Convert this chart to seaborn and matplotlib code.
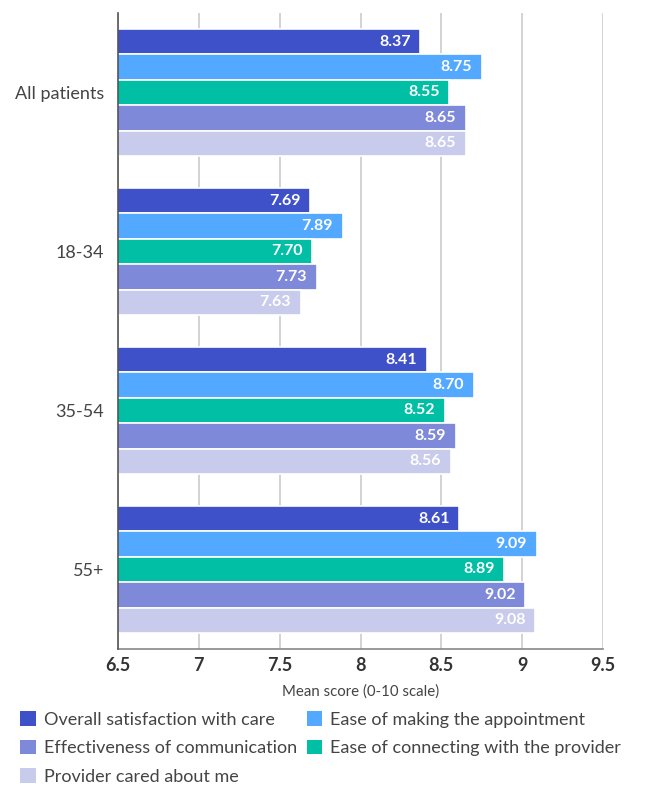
import matplotlib
matplotlib.use("Agg")
import matplotlib.pyplot as plt
import seaborn as sns
import pandas as pd
from matplotlib.patches import Patch

groups = ["All patients", "18-34", "35-54", "55+"]
measures = [
    "Overall satisfaction with care",
    "Ease of making the appointment",
    "Ease of connecting with the provider",
    "Effectiveness of communication",
    "Provider cared about me",
]
overall = [8.37, 7.69, 8.41, 8.61]
making_appt = [8.75, 7.89, 8.70, 9.09]
connecting = [8.55, 7.70, 8.52, 8.89]
communication = [8.65, 7.73, 8.59, 9.02]
cared = [8.65, 7.63, 8.56, 9.08]
colors = ["#3F51C8", "#52A9FF", "#00BFA5", "#7F89D9", "#C8CBEC"]
xticks = [6.5, 7, 7.5, 8, 8.5, 9, 9.5]

series = [overall, making_appt, connecting, communication, cared]
rows = []
for m, vals in zip(measures, series):
    for g, v in zip(groups, vals):
        rows.append({"group": g, "measure": m, "score": v})
df = pd.DataFrame(rows)

sns.set_theme(style="white")
plt.rcParams["font.family"] = ["Lato", "DejaVu Sans"]

fig = plt.figure(figsize=(6.47, 7.86), dpi=100)
ax = fig.add_axes([0.1824, 0.1743, 0.7496, 0.8092])

sns.barplot(data=df, y="group", x="score", hue="measure", order=groups,
            hue_order=measures, palette=colors, saturation=1, orient="h",
            width=0.8, edgecolor="white", linewidth=1.2, ax=ax, legend=False,
            zorder=3)

ax.set_xlim(6.5, 9.5)
ax.set_ylim(3.5, -0.5)
ax.set_xticks(xticks)
ax.set_xticklabels([f"{t:g}" for t in xticks], fontsize=13, fontweight="bold",
                   color="#333333")
ax.tick_params(axis="x", length=0, pad=6)
ax.tick_params(axis="y", length=0, pad=10, labelsize=13, labelcolor="#444444")
ax.set_ylabel("")
ax.set_xlabel("Mean score (0-10 scale)", fontsize=10.8, color="#444444",
              labelpad=7)
ax.grid(axis="x", color="#CCCCCC", linewidth=1.2, zorder=0)
ax.set_axisbelow(True)
for s in ["top", "right"]:
    ax.spines[s].set_visible(False)
ax.spines["left"].set_color("#555555")
ax.spines["left"].set_linewidth(1.2)
ax.spines["left"].set_zorder(6)
ax.spines["bottom"].set_color("#888888")
ax.spines["bottom"].set_linewidth(1.2)

for container in ax.containers:
    for bar in container:
        w = bar.get_x() + bar.get_width()
        yc = bar.get_y() + bar.get_height() / 2
        ax.annotate(f"{w:.2f}", xy=(w, yc), xytext=(-7, 0),
                    textcoords="offset points", ha="right", va="center",
                    color="white", fontsize=11.5, fontweight="bold", zorder=5)

order = [0, 3, 4, 1, 2]
handles = [Patch(facecolor=colors[i], edgecolor="none") for i in order]
labels = [measures[i] for i in order]
fig.legend(handles, labels, loc="upper left", bbox_to_anchor=(0.02, 0.104),
           ncol=2, frameon=False, fontsize=13, handlelength=0.85,
           handleheight=0.85, handletextpad=0.45, columnspacing=0.55,
           labelspacing=0.66, labelcolor="#444444", borderaxespad=0)

fig.savefig("out.png", dpi=100)
